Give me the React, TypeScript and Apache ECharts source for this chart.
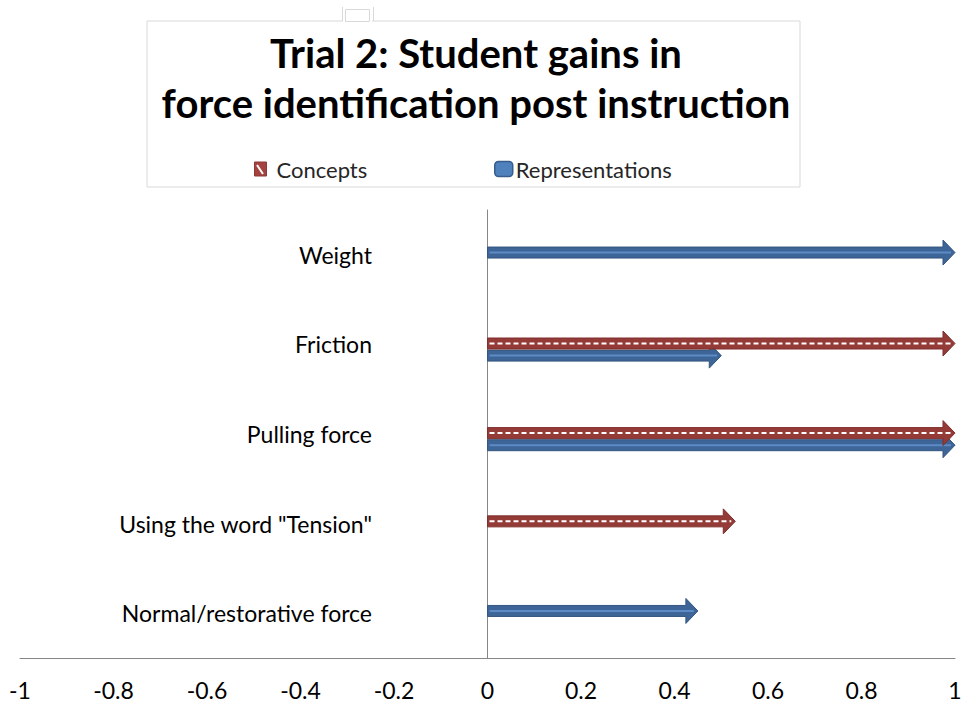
import React, { useEffect, useRef } from "react";
import * as echarts from "echarts";

const categories = [
  "Weight",
  "Friction",
  "Pulling force",
  'Using the word "Tension"',
  "Normal/restorative force",
];
const conceptsValues = [0, 1, 1, 0.53, 0];
const representationsValues = [1, 0.5, 1, 0, 0.45];
const xTicks = { min: -1, max: 1, interval: 0.2 };

const FONT = "Lato, 'Open Sans', sans-serif";

type ArrowStyle = { fill: string; stroke: string; line: string; dash: number[] | null; lineWidth: number };

const makeRender = (isConcepts: boolean, st: ArrowStyle) => (params: any, api: any) => {
  const v = api.value(0);
  const idx = api.value(1);
  const band = api.size([0, 1])[1];
  const both = conceptsValues[idx] > 0 && representationsValues[idx] > 0;
  const off = both ? (isConcepts ? -0.01 : 0.125) : -0.025;
  const s = api.coord([0, idx]);
  const e = api.coord([v, idx]);
  const y = s[1] + off * band;
  const x0 = s[0];
  const xt = e[0];
  const h = 5.5;
  const H = 12.5;
  const L = 12;
  return {
    type: "group",
    children: [
      {
        type: "polygon",
        shape: {
          points: [
            [x0, y - h],
            [xt - L, y - h],
            [xt - L, y - H],
            [xt, y],
            [xt - L, y + H],
            [xt - L, y + h],
            [x0, y + h],
          ],
        },
        style: { fill: st.fill, stroke: st.stroke, lineWidth: 1 },
      },
      {
        type: "line",
        shape: { x1: x0 + 2, y1: y, x2: xt - 4, y2: y },
        style: { stroke: st.line, lineWidth: st.lineWidth, lineDash: st.dash || undefined },
      },
    ],
  };
};

export default function App() {
  const ref = useRef<HTMLDivElement>(null);
  useEffect(() => {
    if (!ref.current) return;
    const chart = echarts.init(ref.current, null, { renderer: "svg" });
    const conceptsData = conceptsValues
      .map((v, i) => [v, i])
      .filter((d) => d[0] > 0);
    const repsData = representationsValues
      .map((v, i) => [v, i])
      .filter((d) => d[0] > 0);
    chart.setOption({
      animation: false,
      backgroundColor: "#ffffff",
      title: {
        text: "Trial 2: Student gains in\nforce identification post instruction",
        left: 471,
        top: 23,
        textAlign: "center",
        textStyle: {
          fontFamily: FONT,
          fontWeight: "bold",
          fontSize: 40,
          lineHeight: 50,
          color: "#000000",
        },
      },
      legend: [
        {
          data: [{ name: "Concepts", icon: "rect", itemStyle: { color: "#A4423F", borderColor: "#8C3836", borderWidth: 1 } }],
          left: 249,
          top: 153,
          itemWidth: 12,
          itemHeight: 14,
          textStyle: { fontFamily: FONT, fontSize: 22, color: "#262626", padding: [0, 0, 0, 5] },
        },
        {
          data: [{ name: "Representations", icon: "roundRect", itemStyle: { color: "#4F81BD", borderColor: "#385D8A", borderWidth: 1.5 } }],
          left: 489,
          top: 153,
          itemWidth: 18,
          itemHeight: 15,
          textStyle: { fontFamily: FONT, fontSize: 22, color: "#262626", padding: [0, 0, 0, -2] },
        },
      ],
      grid: { left: 20, right: 11, top: 210, bottom: 46, containLabel: false, outerBoundsMode: "none" },
      xAxis: {
        type: "value",
        min: xTicks.min,
        max: xTicks.max,
        interval: xTicks.interval,
        axisLine: { show: true, lineStyle: { color: "#868686", width: 1 } },
        axisTick: { show: false },
        splitLine: { show: false },
        axisLabel: { fontFamily: FONT, fontSize: 23, color: "#000000", margin: 20 },
      },
      yAxis: {
        type: "category",
        inverse: true,
        data: categories,
        axisLine: { show: true, onZero: true, lineStyle: { color: "#868686", width: 1 } },
        axisTick: { show: false },
        splitLine: { show: false },
        axisLabel: { fontFamily: FONT, fontSize: 23, color: "#000000", margin: -352, align: "right" },
      },
      graphic: [
        {
          type: "rect",
          shape: { x: 147, y: 21, width: 653, height: 166 },
          style: { fill: "none", stroke: "#D9D9D9", lineWidth: 1 },
          silent: true,
        },
        {
          type: "rect",
          shape: { x: 343, y: 19, width: 29, height: 4 },
          style: { fill: "#ffffff", stroke: "none" },
          silent: true,
        },
        { type: "line", shape: { x1: 342.5, y1: 7, x2: 342.5, y2: 21 }, style: { stroke: "#D9D9D9", lineWidth: 1 }, silent: true },
        { type: "line", shape: { x1: 373.5, y1: 7, x2: 373.5, y2: 21 }, style: { stroke: "#D9D9D9", lineWidth: 1 }, silent: true },
        {
          type: "rect",
          shape: { x: 345.5, y: 9.5, width: 24, height: 12 },
          style: { fill: "none", stroke: "#D9D9D9", lineWidth: 1 },
          silent: true,
        },
        {
          type: "line",
          shape: { x1: 257, y1: 165, x2: 263, y2: 174 },
          style: { stroke: "#ffffff", lineWidth: 2 },
          silent: true,
          z: 100,
        },
      ],
      series: [
        {
          name: "Concepts",
          type: "custom",
          itemStyle: { color: "#A4423F" },
          encode: { x: 0, y: 1 },
          data: conceptsData,
          renderItem: makeRender(true, {
            fill: "#943A37",
            stroke: "#7F2F2D",
            line: "#ffffff",
            dash: [5, 3],
            lineWidth: 2,
          }),
          z: 3,
        },
        {
          name: "Representations",
          type: "custom",
          itemStyle: { color: "#4F81BD" },
          encode: { x: 0, y: 1 },
          data: repsData,
          renderItem: makeRender(false, {
            fill: "#3D6597",
            stroke: "#34567F",
            line: "#5C8BC5",
            dash: null,
            lineWidth: 2,
          }),
          z: 2,
        },
      ],
    });
    return () => chart.dispose();
  }, []);
  return <div ref={ref} style={{ width: 966, height: 704, position: "fixed", left: 0, top: 0 }} />;
}
